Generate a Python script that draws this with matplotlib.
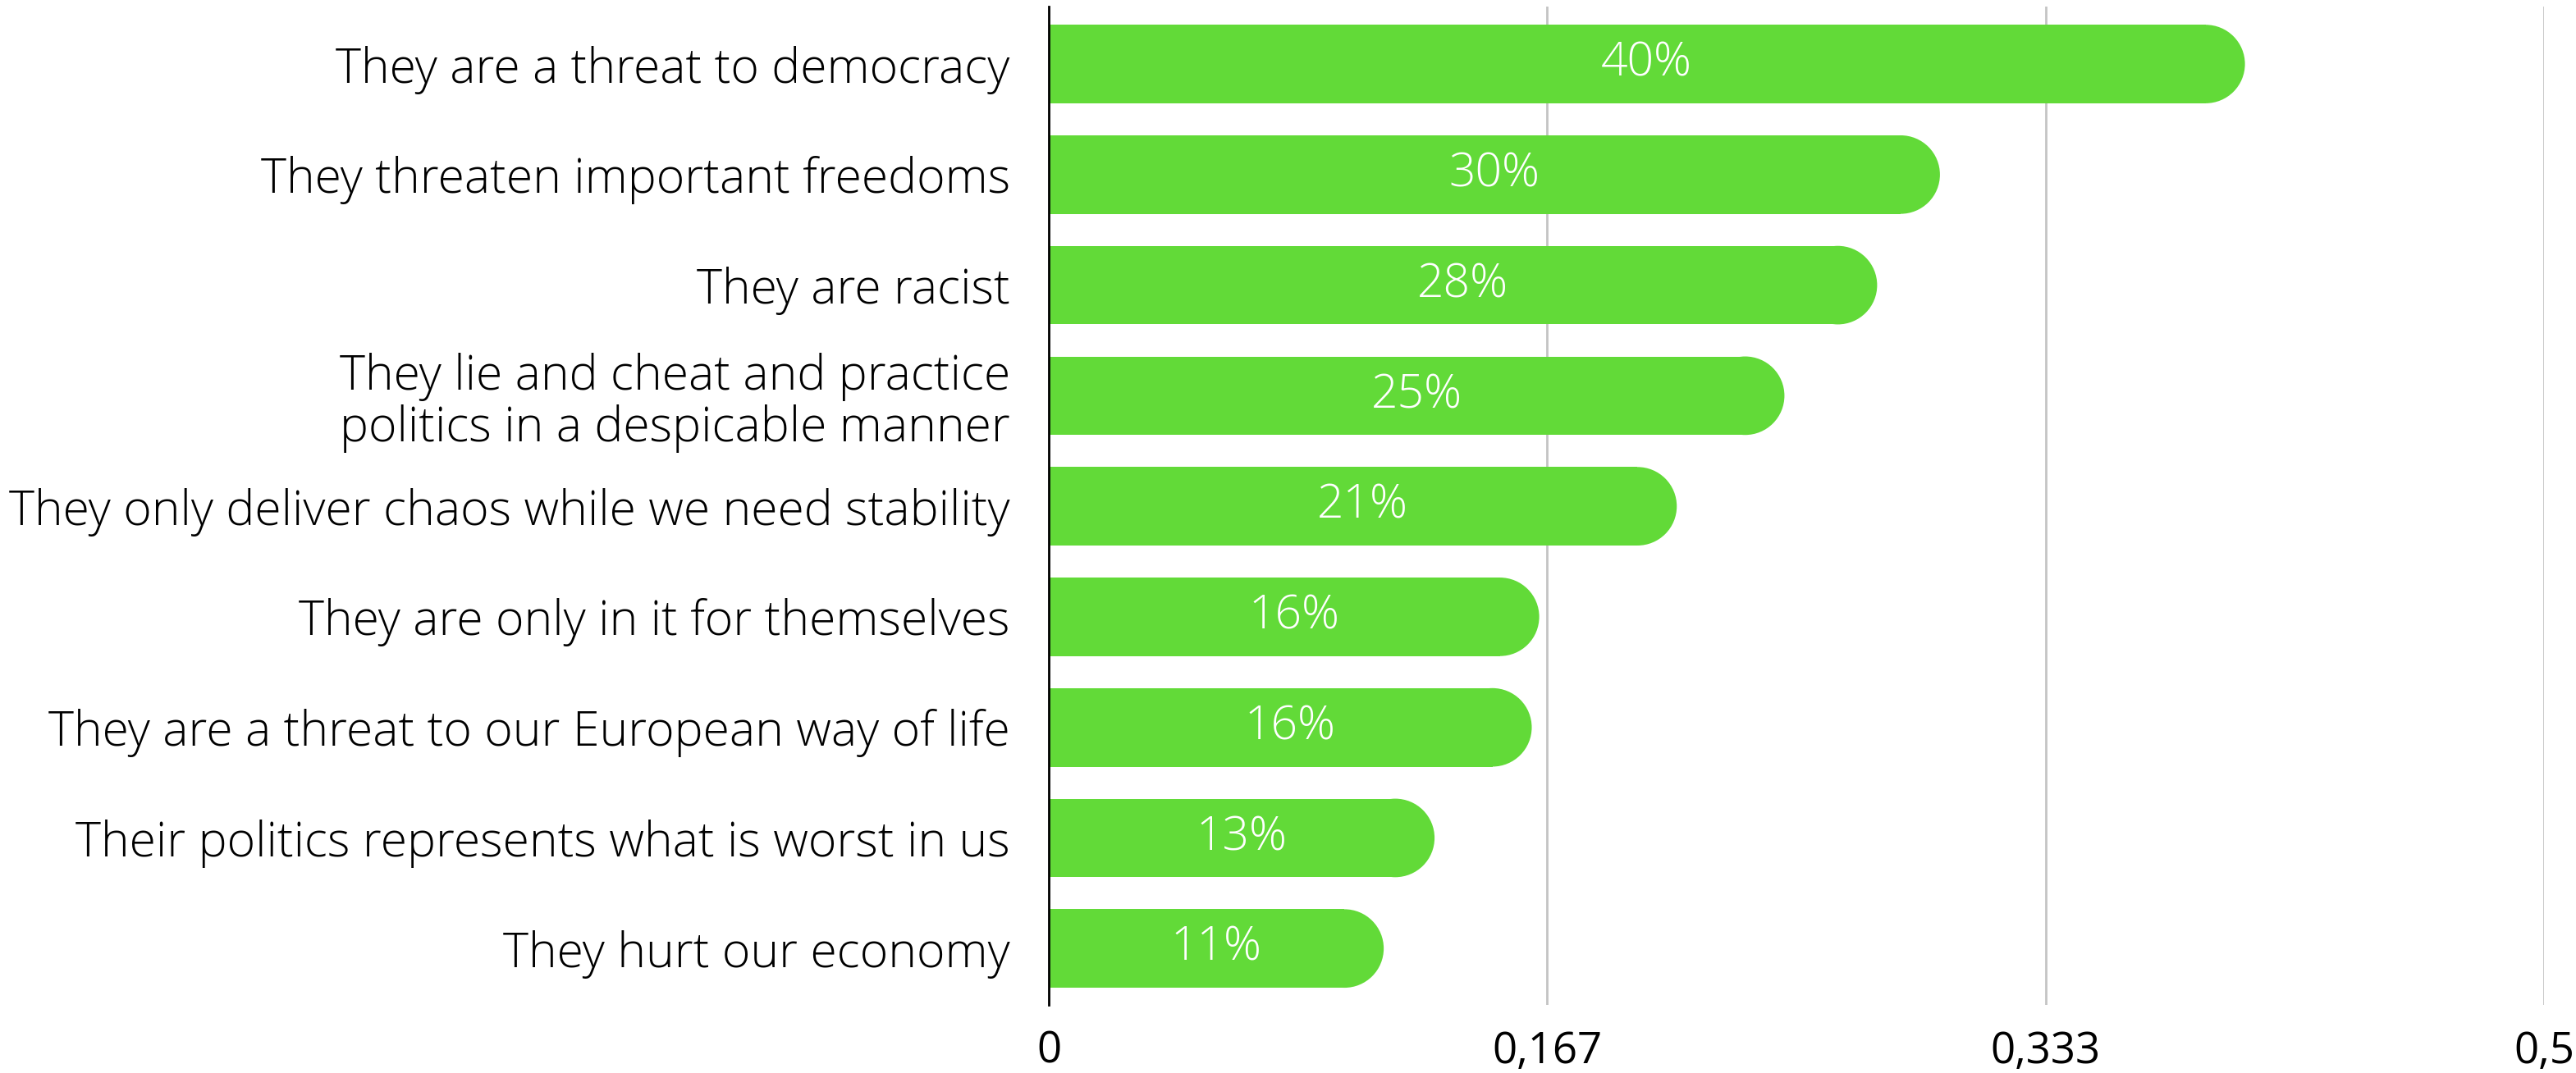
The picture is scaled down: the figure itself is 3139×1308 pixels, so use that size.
import matplotlib.pyplot as plt
from matplotlib.patches import Ellipse

plt.rcParams['font.family'] = ['Open Sans', 'DejaVu Sans']

categories = ['They are a threat to democracy',
              'They threaten important freedoms',
              'They are racist',
              'They lie and cheat and practice\npolitics in a despicable manner',
              'They only deliver chaos while we need stability',
              'They are only in it for themselves',
              'They are a threat to our European way of life',
              'Their politics represents what is worst in us',
              'They hurt our economy']
values = [0.400, 0.298, 0.277, 0.246, 0.210, 0.164, 0.1615, 0.129, 0.112]
value_labels = ['40%', '30%', '28%', '25%', '21%', '16%', '16%', '13%', '11%']
xticks = [0, 0.1667, 0.3333, 0.5]
xtick_labels = ['0', '0,167', '0,333', '0,5']

green = '#62da38'
bar_h = 0.71

fig = plt.figure(figsize=(31.39, 13.08), dpi=100)
ax = fig.add_axes([1278 / 3139, 0.0635, (3100 - 1278) / 3139, 0.9939 - 0.0635])
ax.set_xlim(0, 0.5)
ax.set_ylim(8.51, -0.52)

# radius of the rounded end, in x data units (so the cap looks circular)
ax_w_px = ax.get_position().width * fig.get_figwidth() * fig.dpi
ax_h_px = ax.get_position().height * fig.get_figheight() * fig.dpi
px_per_x = ax_w_px / 0.5
px_per_y = ax_h_px / (8.51 + 0.52)
r = bar_h * px_per_y / 2 / px_per_x

ypos = range(len(categories))
for y, v, lab in zip(ypos, values, value_labels):
    ax.barh(y, v - r, height=bar_h, color=green, zorder=2, linewidth=0)
    ax.add_patch(Ellipse((v - r, y), 2 * r, bar_h, color=green, zorder=2, linewidth=0))
    ax.text(v / 2, y, lab, color='white', ha='center', va='center',
            fontsize=41, fontweight='light', zorder=3)

ax.set_yticks(list(ypos))
ax.set_yticklabels(categories, fontsize=42.5, fontweight='light', color='black',
                   linespacing=1.09)
ax.set_xticks(xticks)
ax.set_xticklabels(xtick_labels, fontsize=38, color='black')
ax.tick_params(axis='both', length=0)
ax.tick_params(axis='y', pad=34)
ax.tick_params(axis='x', pad=22)

ax.xaxis.grid(True, color='#c4c4c4', linewidth=2, zorder=0)
ax.set_axisbelow(True)
for s in ['top', 'right', 'bottom']:
    ax.spines[s].set_visible(False)
ax.spines['left'].set_linewidth(2)
ax.spines['left'].set_color('black')
ax.spines['left'].set_zorder(4)

fig.savefig('out.png', dpi=100, facecolor='white')
